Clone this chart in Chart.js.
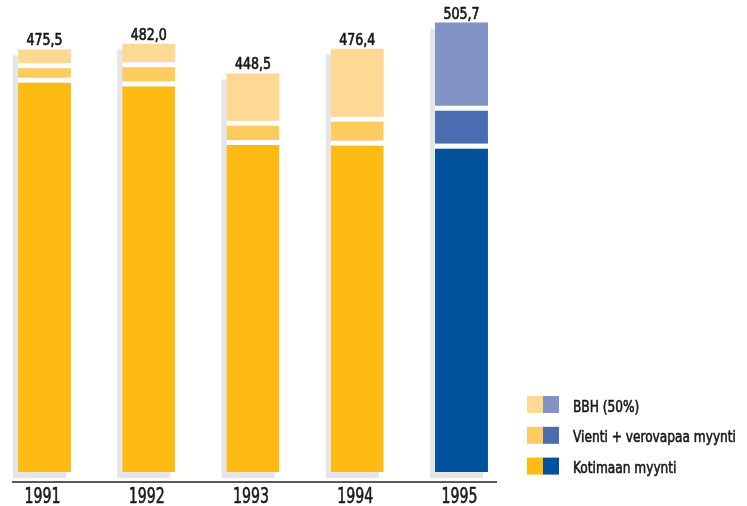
<!DOCTYPE html>
<html>
<head>
<meta charset="utf-8">
<script src="https://cdn.jsdelivr.net/npm/chart.js@4/dist/chart.umd.min.js"></script>
<style>
  body { margin: 0; background: #fff; }
  #wrap { width: 747px; height: 506px; }
</style>
</head>
<body>
<div id="wrap"><canvas id="grafiikka" width="747" height="506"></canvas></div>
<script>
// Vuodet ja myyntiosuudet (pinottu)
const vuodet = ['1991', '1992', '1993', '1994', '1995'];
const kotimaanMyynti = [443.6, 439.5, 373.5, 372.7, 369.4];
const vientiVerovapaa = [16.4, 21.5, 21.8, 27.1, 42.8];
const bbhOsuus = [15.5, 21.0, 53.2, 76.6, 93.5];
const summat = ['475,5', '482,0', '448,5', '476,4', '505,7'];
const sarjaNimet = ['Kotimaan myynti', 'Vienti + verovapaa myynti', 'BBH (50%)'];

// Värit: keltainen sävy vuosille 1991-94, sininen vuodelle 1995
const keltaiset = ['#fdbb14', '#fecb5e', '#fed993'];
const siniset = ['#00529c', '#4a6db1', '#8193c5'];
const varit = (i) => vuodet.map((v, j) => j === vuodet.length - 1 ? siniset[i] : keltaiset[i]);

const fontti = '"DejaVu Sans Condensed", "Liberation Sans Narrow", sans-serif';
const tekstiVari = '#1a1a1a';

// kapea teksti: skaalataan vaakasuunnassa niin että leveys osuu tavoitteeseen,
// ohut ääriviiva antaa puolilihavan vaikutelman
function kapeaTeksti(c, teksti, x, y, kerroin, tasaus, paksuus) {
  const w = c.measureText(teksti).width * kerroin;
  let x0 = x;
  if (tasaus === 'center') x0 = x - w / 2;
  c.save();
  c.translate(x0, y);
  c.scale(kerroin, 1);
  c.textAlign = 'left';
  c.fillText(teksti, 0, 0);
  if (paksuus) {
    c.strokeStyle = tekstiVari;
    c.lineWidth = paksuus;
    c.lineJoin = 'round';
    c.strokeText(teksti, 0, 0);
  }
  c.restore();
}

// Harmaa varjo pylväiden taakse, summat päälle, vuodet, akselin viiva ja selite
const koristeet = {
  id: 'koristeet',
  beforeDatasetsDraw(chart) {
    const c = chart.ctx;
    const ala = chart.getDatasetMeta(0).data;
    const yla = chart.getDatasetMeta(2).data;
    c.save();
    c.fillStyle = '#e6e6e6';
    ala.forEach((b, i) => {
      const t = yla[i];
      c.fillRect(b.x - b.width / 2 - 5, t.y + 6, b.width, b.base - t.y);
    });
    c.restore();
  },
  afterDatasetsDraw(chart) {
    const c = chart.ctx;
    const yla = chart.getDatasetMeta(2).data;
    const y0 = chart.scales.y.getPixelForValue(0);
    c.save();
    c.fillStyle = tekstiVari;
    c.textBaseline = 'alphabetic';

    // summat pylväiden päällä
    c.font = '16px ' + fontti;
    let k = 36 / c.measureText(summat[0]).width;
    yla.forEach((t, i) => kapeaTeksti(c, summat[i], t.x, t.y - 4, k, 'center', 0.7));

    // vuodet akselin alla
    c.font = '22px ' + fontti;
    k = 36 / c.measureText(vuodet[0]).width;
    vuodet.forEach((v, i) => kapeaTeksti(c, v, chart.scales.x.getPixelForValue(i) - 2, y0 + 31, k, 'center', 0.6));

    // x-akselin viiva
    c.strokeStyle = '#222';
    c.lineWidth = 1.5;
    c.beginPath();
    c.moveTo(12, y0 + 10);
    c.lineTo(497, y0 + 10);
    c.stroke();

    // selite
    c.font = '16px ' + fontti;
    k = 163 / c.measureText(sarjaNimet[1]).width;
    [2, 1, 0].forEach((s, r) => {
      const yy = 396 + r * 30.8;
      c.fillStyle = keltaiset[s];
      c.fillRect(527, yy, 16, 17);
      c.fillStyle = siniset[s];
      c.fillRect(543, yy, 16, 17);
      c.fillStyle = tekstiVari;
      kapeaTeksti(c, sarjaNimet[s], 573, yy + 15.5, k, 'left', 0.6);
    });
    c.restore();
  }
};

const valkoinenRako = { top: 5, left: 0, right: 0, bottom: 0 };

new Chart(document.getElementById('grafiikka'), {
  type: 'bar',
  data: {
    labels: vuodet,
    datasets: [
      { label: sarjaNimet[0], data: kotimaanMyynti, backgroundColor: varit(0),
        borderColor: '#fff', borderWidth: valkoinenRako, borderSkipped: false, clip: false },
      { label: sarjaNimet[1], data: vientiVerovapaa, backgroundColor: varit(1),
        borderColor: '#fff', borderWidth: valkoinenRako, borderSkipped: false, clip: false },
      { label: sarjaNimet[2], data: bbhOsuus, backgroundColor: varit(2),
        borderWidth: 0, clip: false }
    ]
  },
  options: {
    responsive: false,
    animation: false,
    devicePixelRatio: 1,
    layout: { padding: { left: 44.5, right: 285.5, top: 1, bottom: 34 } },
    datasets: { bar: { barPercentage: 1, categoryPercentage: 0.508 } },
    plugins: { legend: { display: false }, tooltip: { enabled: false } },
    scales: {
      x: {
        stacked: true,
        offset: false,
        grid: { display: false, drawTicks: false },
        border: { display: false },
        ticks: { display: false }
      },
      y: {
        stacked: true,
        display: false,
        min: 0,
        max: 530
      }
    }
  },
  plugins: [koristeet]
});
</script>
</body>
</html>
